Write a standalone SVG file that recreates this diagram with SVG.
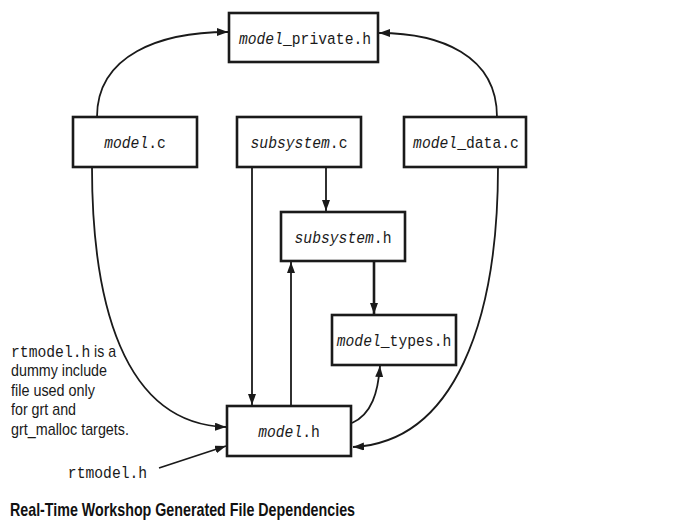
<svg xmlns="http://www.w3.org/2000/svg" width="688" height="522" viewBox="0 0 688 522">
  <style>
    .box { fill: #fff; stroke: #1a1a1a; stroke-width: 2.6; }
    .lbl { font-family: "Liberation Mono", "DejaVu Sans Mono", monospace; font-size: 14.7px; fill: #1a1a1a; text-anchor: middle; }
    .it { font-style: italic; }
    .edge { fill: none; stroke: #1a1a1a; stroke-width: 1.8; }
    .note { font-family: "Liberation Sans", Arial, sans-serif; font-size: 17px; fill: #1a1a1a; }
    .mono { font-family: "Liberation Mono", "DejaVu Sans Mono", monospace; font-size: 14.7px; fill: #1a1a1a; }
    .title { font-family: "Liberation Sans", Arial, sans-serif; font-size: 19px; font-weight: bold; fill: #111; }
  </style>
  <defs>
    <marker id="arrow" markerUnits="userSpaceOnUse" markerWidth="12" markerHeight="10" refX="11" refY="4" orient="auto">
      <path d="M0,0 L11,4 L0,8 Z" fill="#1a1a1a"/>
    </marker>
  </defs>

  <rect width="688" height="522" fill="#fff"/>

  <g id="connectors">
    <path class="edge" d="M97,117 C97,55 160,32 228,32" marker-end="url(#arrow)"/>
    <path class="edge" d="M497,117 C497,55 440,33 379,33" marker-end="url(#arrow)"/>
    <path class="edge" d="M326,167 L326,211" marker-end="url(#arrow)"/>
    <path class="edge" d="M252,167 L252,405" marker-end="url(#arrow)"/>
    <path class="edge" d="M291,406 L291,262" marker-end="url(#arrow)"/>
    <path class="edge" style="stroke-width:2.6" d="M374,261 L374,314" marker-end="url(#arrow)"/>
    <path class="edge" d="M352,423 C372,414 378,392 380,366" marker-end="url(#arrow)"/>
    <path class="edge" d="M92,167 C92,300 122,424 226,427" marker-end="url(#arrow)"/>
    <path class="edge" d="M498,167 C498,320 455,442 353,447" marker-end="url(#arrow)"/>
    <path class="edge" d="M159,468 L226,446" marker-end="url(#arrow)"/>
  </g>

  <!-- labels are stretched a little vertically for a tall, narrow typewriter look -->
  <g id="model_private_h">
    <rect class="box" x="229" y="13" width="149" height="49"/>
    <text class="lbl" transform="translate(305,43.5) scale(1,1.18)"><tspan class="it">model</tspan>_private.h</text>
  </g>
  <g id="model_c">
    <rect class="box" x="73" y="117" width="124" height="50"/>
    <text class="lbl" transform="translate(135,148) scale(1,1.18)"><tspan class="it">model</tspan>.c</text>
  </g>
  <g id="subsystem_c">
    <rect class="box" x="237" y="117" width="124" height="50"/>
    <text class="lbl" transform="translate(299,148) scale(1,1.18)"><tspan class="it">subsystem</tspan>.c</text>
  </g>
  <g id="model_data_c">
    <rect class="box" x="404" y="117" width="122" height="50"/>
    <text class="lbl" transform="translate(466,148) scale(1,1.18)"><tspan class="it">model</tspan>_data.c</text>
  </g>
  <g id="subsystem_h">
    <rect class="box" x="281" y="212" width="124" height="49"/>
    <text class="lbl" transform="translate(343,242.5) scale(1,1.18)"><tspan class="it">subsystem</tspan>.h</text>
  </g>
  <g id="model_types_h">
    <rect class="box" x="332" y="315" width="124" height="50"/>
    <text class="lbl" transform="translate(394,346) scale(1,1.18)"><tspan class="it">model</tspan>_types.h</text>
  </g>
  <g id="model_h">
    <rect class="box" x="227" y="406" width="124" height="50"/>
    <text class="lbl" transform="translate(289,437) scale(1,1.18)"><tspan class="it">model</tspan>.h</text>
  </g>

  <g id="rtmodel_h">
    <text class="lbl" transform="translate(107.5,478) scale(1,1.18)">rtmodel.h</text>
  </g>

  <g id="note">
    <text class="mono" transform="translate(11,357) scale(1,1.18)">rtmodel.h</text>
    <text class="note" x="94" y="357" textLength="22" lengthAdjust="spacingAndGlyphs">is a</text>
    <text class="note" x="11" y="376" textLength="96" lengthAdjust="spacingAndGlyphs">dummy include</text>
    <text class="note" x="11" y="396" textLength="84" lengthAdjust="spacingAndGlyphs">file used only</text>
    <text class="note" x="11" y="415" textLength="65" lengthAdjust="spacingAndGlyphs">for grt and</text>
    <text class="note" x="11" y="435" textLength="118" lengthAdjust="spacingAndGlyphs">grt_malloc targets.</text>
  </g>

  <text class="title" x="10" y="516" textLength="345" lengthAdjust="spacingAndGlyphs">Real-Time Workshop Generated File Dependencies</text>
</svg>
